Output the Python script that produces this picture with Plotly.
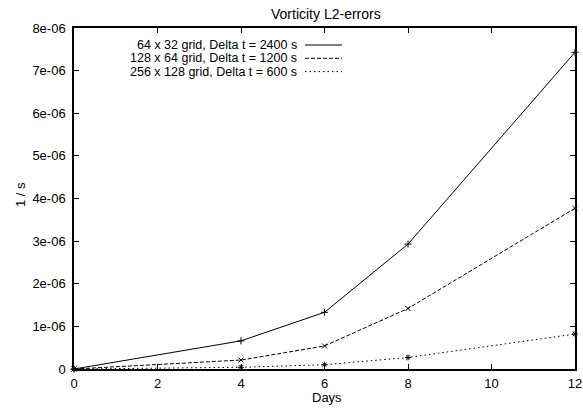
import plotly.graph_objects as go

days = [0, 4, 6, 8, 12]
err_64 = [0.0, 0.66e-6, 1.33e-6, 2.93e-6, 7.43e-6]
err_128 = [0.0, 0.21e-6, 0.54e-6, 1.42e-6, 3.77e-6]
err_256 = [0.0, 0.04e-6, 0.10e-6, 0.27e-6, 0.82e-6]
labels = ["64 x 32 grid, Delta t = 2400 s",
          "128 x 64 grid, Delta t = 1200 s",
          "256 x 128 grid, Delta t = 600 s"]
x_ticks = [0, 2, 4, 6, 8, 10, 12]
y_ticks = [0, 1e-6, 2e-6, 3e-6, 4e-6, 5e-6, 6e-6, 7e-6, 8e-6]
y_ticktext = ["0", "1e-06", "2e-06", "3e-06", "4e-06", "5e-06", "6e-06", "7e-06", "8e-06"]

series = [err_64, err_128, err_256]
dashes = ["solid", "4px,2px", "1.5px,3px"]
symbols = ["cross-thin-open", "x-thin-open", "asterisk-open"]

fig = go.Figure()
for ys, d, s, name in zip(series, dashes, symbols, labels):
    fig.add_trace(go.Scatter(
        x=days, y=ys, mode="lines+markers", name=name,
        line=dict(color="black", width=1, dash=d),
        marker=dict(symbol=s, size=5, color="black", line=dict(color="black", width=1)),
        showlegend=False, cliponaxis=False))

W, H = 583, 408
# plot area in screen pixels
SX0, SX1, SY0, SY1 = 74, 575, 28, 369
L, T = SX0, SY0
R = W - SX1
B = H - SY1
pw, ph = SX1 - SX0, SY1 - SY0


def px(sx):
    return (sx - SX0) / pw


def py(sy):
    return (SY1 - sy) / ph


fam = "Liberation Sans, Arial, sans-serif"
font = dict(family=fam, size=13, color="black")
lfont = dict(family=fam, size=12.5, color="black")

for i, (name, d) in enumerate(zip(labels, dashes)):
    sy = 45 + 13.3 * i
    fig.add_annotation(text=name, xref="paper", yref="paper",
                       x=px(299), y=py(sy), xanchor="right", yanchor="middle",
                       showarrow=False, font=lfont)
    fig.add_shape(type="line", xref="paper", yref="paper",
                  x0=px(305), x1=px(342), y0=py(sy), y1=py(sy),
                  line=dict(color="black", width=1, dash=d))

fig.add_annotation(text="Vorticity L2-errors", xref="paper", yref="paper",
                   x=px(325.5), y=py(14), xanchor="center", yanchor="middle",
                   showarrow=False, font=dict(family=fam, size=14, color="black"))
fig.add_annotation(text="Days", xref="paper", yref="paper",
                   x=px(327), y=py(397), xanchor="center", yanchor="middle",
                   showarrow=False, font=font)
fig.add_annotation(text="1 / s", xref="paper", yref="paper", textangle=-90,
                   x=px(20), y=py(195), xanchor="center", yanchor="middle",
                   showarrow=False, font=font)

axis_common = dict(showline=True, linecolor="black", linewidth=1.5, mirror="ticks",
                   ticks="inside", ticklen=5, tickcolor="black", tickwidth=1,
                   showgrid=False, zeroline=False, tickfont=font, automargin=False,
                   ticklabeloverflow="allow")

fig.update_layout(
    width=W, height=H,
    margin=dict(l=L, r=R, t=T, b=B),
    paper_bgcolor="white", plot_bgcolor="white",
    font=font,
    xaxis=dict(range=[0, 12], tickvals=x_ticks, ticklabelstandoff=2, **axis_common),
    yaxis=dict(range=[0, 8e-6], tickvals=y_ticks, ticktext=y_ticktext,
               ticklabelstandoff=4, **axis_common),
)

fig.write_html("out.html", config={"displayModeBar": False},
               post_script="document.body.style.margin='0';")
